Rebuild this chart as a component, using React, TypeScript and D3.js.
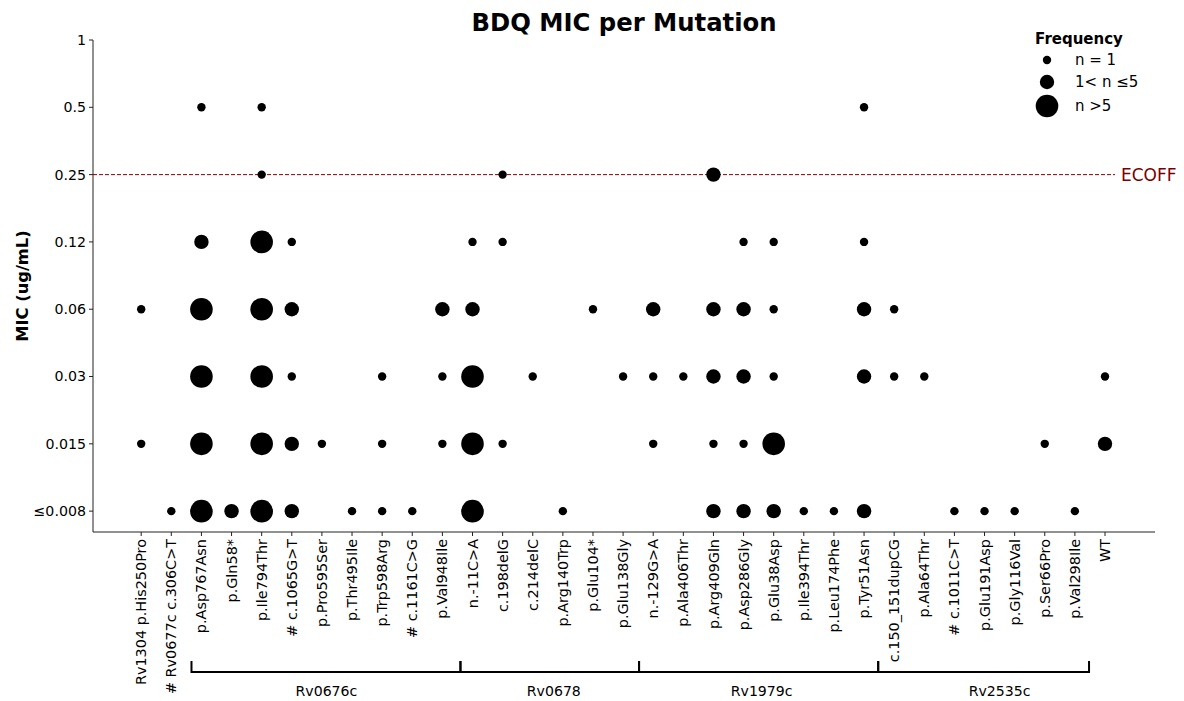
import React from "react";
import * as d3 from "d3";

const mutations = [
  "Rv1304 p.His250Pro", "# Rv0677c c.306C>T", "p.Asp767Asn", "p.Gln58*", "p.Ile794Thr",
  "# c.1065G>T", "p.Pro595Ser", "p.Thr495Ile", "p.Trp598Arg", "# c.1161C>G",
  "p.Val948Ile", "n.-11C>A", "c.198delG", "c.214delC", "p.Arg140Trp",
  "p.Glu104*", "p.Glu138Gly", "n.-129G>A", "p.Ala406Thr", "p.Arg409Gln",
  "p.Asp286Gly", "p.Glu38Asp", "p.Ile394Thr", "p.Leu174Phe", "p.Tyr51Asn",
  "c.150_151dupCG", "p.Ala64Thr", "# c.1011C>T", "p.Glu191Asp", "p.Gly116Val",
  "p.Ser66Pro", "p.Val298Ile", "WT",
];

const micLevels = ["≤0.008", "0.015", "0.03", "0.06", "0.12", "0.25", "0.5", "1"];

// frequency class: 1 => n = 1, 2 => 1< n ≤5, 3 => n >5
const points: [number, string, number][] = [
  [0, "0.06", 1], [0, "0.015", 1],
  [1, "≤0.008", 1],
  [2, "0.5", 1], [2, "0.12", 2], [2, "0.06", 3], [2, "0.03", 3], [2, "0.015", 3], [2, "≤0.008", 3],
  [3, "≤0.008", 2],
  [4, "0.5", 1], [4, "0.25", 1], [4, "0.12", 3], [4, "0.06", 3], [4, "0.03", 3], [4, "0.015", 3], [4, "≤0.008", 3],
  [5, "0.12", 1], [5, "0.06", 2], [5, "0.03", 1], [5, "0.015", 2], [5, "≤0.008", 2],
  [6, "0.015", 1],
  [7, "≤0.008", 1],
  [8, "0.03", 1], [8, "0.015", 1], [8, "≤0.008", 1],
  [9, "≤0.008", 1],
  [10, "0.06", 2], [10, "0.03", 1], [10, "0.015", 1],
  [11, "0.12", 1], [11, "0.06", 2], [11, "0.03", 3], [11, "0.015", 3], [11, "≤0.008", 3],
  [12, "0.25", 1], [12, "0.12", 1], [12, "0.015", 1],
  [13, "0.03", 1],
  [14, "≤0.008", 1],
  [15, "0.06", 1],
  [16, "0.03", 1],
  [17, "0.06", 2], [17, "0.03", 1], [17, "0.015", 1],
  [18, "0.03", 1],
  [19, "0.25", 2], [19, "0.06", 2], [19, "0.03", 2], [19, "0.015", 1], [19, "≤0.008", 2],
  [20, "0.12", 1], [20, "0.06", 2], [20, "0.03", 2], [20, "0.015", 1], [20, "≤0.008", 2],
  [21, "0.12", 1], [21, "0.06", 1], [21, "0.03", 1], [21, "0.015", 3], [21, "≤0.008", 2],
  [22, "≤0.008", 1],
  [23, "≤0.008", 1],
  [24, "0.5", 1], [24, "0.12", 1], [24, "0.06", 2], [24, "0.03", 2], [24, "≤0.008", 2],
  [25, "0.06", 1], [25, "0.03", 1],
  [26, "0.03", 1],
  [27, "≤0.008", 1],
  [28, "≤0.008", 1],
  [29, "≤0.008", 1],
  [30, "0.015", 1],
  [31, "≤0.008", 1],
  [32, "0.03", 1], [32, "0.015", 2],
];

const genes = ["Rv0676c", "Rv0678", "Rv1979c", "Rv2535c"];
// bracket boundaries (in mutation-index units) and label centres
const geneEdges = [1.67, 10.6, 16.53, 24.47, 31.47];
const geneLabelAt = [6.15, 13.7, 20.6, 28.5];

const legendLabels = ["n = 1", "1< n ≤5", "n >5"];
const legendClasses = [1, 2, 3];

const ecoff = "0.25";

const W = 1184;
const H = 701;
const left = 93;
const right = 1155;
const top = 40;
const bottom = 532;
const FONT = "DejaVu Sans, sans-serif";

export default function App() {
  const x = d3.scaleLinear().domain([-1.6, mutations.length + 0.66]).range([left, right]);
  const yIdx = d3.scaleLinear().domain([-0.31, micLevels.length - 1]).range([bottom, top]);
  const y = (m: string) => yIdx(micLevels.indexOf(m));
  const r = d3.scaleOrdinal<number, number>().domain([1, 2, 3]).range([4.2, 7.2, 11.3]);

  const bracketY = 672;
  const bracketTop = 661;

  return (
    <svg width={W} height={H} style={{ position: "absolute", left: 0, top: 0, background: "#fff" }} fontFamily={FONT}>
      <rect width={W} height={H} fill="#fff" />
      <text x={(left + right) / 2} y={30.5} textAnchor="middle" fontSize={24.3} fontWeight="bold">
        BDQ MIC per Mutation
      </text>

      {/* y axis */}
      <line x1={left} x2={left} y1={top} y2={bottom} stroke="#222" strokeWidth={1} />
      {micLevels.map((m) => (
        <g key={m}>
          <line x1={left - 4} x2={left} y1={y(m)} y2={y(m)} stroke="#222" />
          <text x={left - 7} y={y(m)} dy="0.35em" textAnchor="end" fontSize={14.2}>
            {m}
          </text>
        </g>
      ))}
      <text
        transform={`translate(28, ${(top + bottom) / 2}) rotate(-90)`}
        textAnchor="middle"
        fontSize={16.3}
        fontWeight="bold"
      >
        MIC (ug/mL)
      </text>

      {/* x axis */}
      <line x1={left} x2={right} y1={bottom} y2={bottom} stroke="#222" strokeWidth={1} />
      {mutations.map((m, i) => (
        <g key={m}>
          <line x1={x(i)} x2={x(i)} y1={bottom} y2={bottom + 4} stroke="#222" />
          <text
            transform={`translate(${x(i)}, ${bottom + 7}) rotate(-90)`}
            textAnchor="end"
            dy="0.35em"
            fontSize={14.4}
          >
            {m}
          </text>
        </g>
      ))}

      {/* ECOFF */}
      <line
        x1={left}
        x2={1115}
        y1={y(ecoff)}
        y2={y(ecoff)}
        stroke="#8b0000"
        strokeWidth={1}
        strokeDasharray="4,2"
      />
      <text x={1121} y={y(ecoff)} dy="0.35em" fontSize={17} fill="#7a0000">
        ECOFF
      </text>

      {/* points */}
      {points.map(([mi, mic, c], k) => (
        <circle key={k} cx={x(mi)} cy={y(mic)} r={r(c)} fill="#000" />
      ))}

      {/* gene brackets */}
      {genes.map((g, i) => {
        const x1 = x(geneEdges[i]);
        const x2 = x(geneEdges[i + 1]);
        return (
          <g key={g}>
            <path
              d={`M${x1},${bracketTop}V${bracketY}H${x2}V${bracketTop}`}
              fill="none"
              stroke="#000"
              strokeWidth={2}
            />
            <text x={x(geneLabelAt[i])} y={696} textAnchor="middle" fontSize={14.1}>
              {g}
            </text>
          </g>
        );
      })}

      {/* legend */}
      <text x={1079} y={44} textAnchor="middle" fontSize={15} fontWeight="bold">
        Frequency
      </text>
      {legendClasses.map((c, i) => (
        <g key={c} transform={`translate(1047, ${[60, 82, 106][i]})`}>
          <circle r={r(c)} fill="#000" />
          <text x={28} dy="0.35em" fontSize={15}>
            {legendLabels[i]}
          </text>
        </g>
      ))}
    </svg>
  );
}
